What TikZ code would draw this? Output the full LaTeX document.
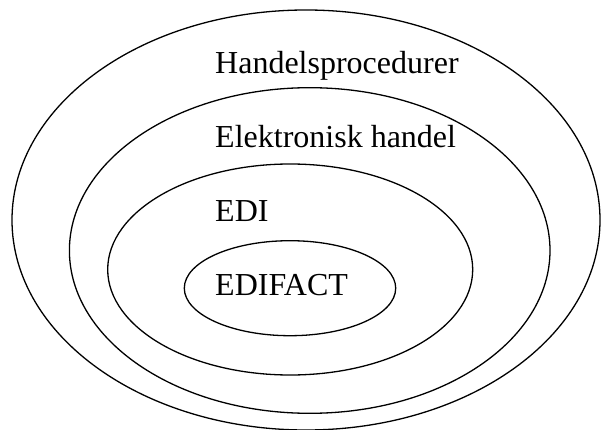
\documentclass[tikz,border=0pt]{standalone}
\usepackage{fontspec}
\setmainfont{Liberation Serif}
\begin{document}
\begin{tikzpicture}[x=1pt,y=-1pt,
  ring/.style={draw=black,line width=1.3pt},
  lbl/.style={anchor=base west,inner sep=0pt,font=\fontsize{32}{36}\selectfont}]
\useasboundingbox (0,0) rectangle (601,430);
% nested scopes, outermost first
\draw[ring] (306,220) ellipse [x radius=294, y radius=210];
\draw[ring] (309.7,250.5) ellipse [x radius=240.3, y radius=162.8];
\draw[ring] (290.2,269.5) ellipse [x radius=182.5, y radius=105.5];
\draw[ring] (290,288.2) ellipse [x radius=105.7, y radius=47.5];
% labels
\node[lbl] (handel) at (215,74) {Handelsprocedurer};
\node[lbl] (ehandel) at (215,147.3) {Elektronisk handel};
\node[lbl] (edi) at (215,221.7) {EDI};
\node[lbl] (edifact) at (215,295) {EDIFACT};
\end{tikzpicture}
\end{document}
